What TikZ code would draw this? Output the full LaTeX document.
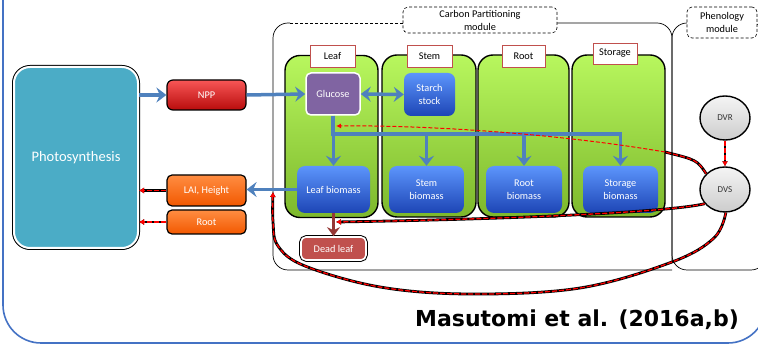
\documentclass[tikz,border=0pt]{standalone}
\usepackage{fontspec}
\setmainfont{Carlito}
\newfontfamily\refont{DejaVu Sans}
\usetikzlibrary{arrows.meta,shapes.geometric}
\definecolor{framec}{HTML}{4472C4}
\definecolor{teal}{HTML}{4BACC6}
\definecolor{arrblue}{HTML}{4F81BD}
\definecolor{nppT}{HTML}{F85656}
\definecolor{nppB}{HTML}{B80C0C}
\definecolor{orT}{HTML}{FF8D42}
\definecolor{orB}{HTML}{F25800}
\definecolor{grT}{HTML}{B8F75E}
\definecolor{grB}{HTML}{7DB82C}
\definecolor{blT}{HTML}{5C95FC}
\definecolor{blB}{HTML}{1D45B5}
\definecolor{purp}{HTML}{8064A2}
\definecolor{deadc}{HTML}{C0504D}
\definecolor{deadarr}{HTML}{953735}
\definecolor{labred}{HTML}{C0504D}
\begin{document}
\begin{tikzpicture}[x=1pt,y=-1pt,
  wtxt/.style={text=white, align=center, inner sep=0pt, font=\fontsize{10.3}{13}\selectfont},
  btxt/.style={text=black, align=center, inner sep=0pt, font=\fontsize{10.3}{13}\selectfont},
  colbox/.style={draw=black, line width=1.4pt, rounded corners=15pt, top color=grT, bottom color=grB, minimum height=162pt},
  labbox/.style={draw=labred, line width=0.8pt, fill=white, btxt, minimum height=22pt},
  biobox/.style={rounded corners=8pt, top color=blT, bottom color=blB, wtxt, minimum height=47pt},
  orbox/.style={draw=black, line width=1.2pt, rounded corners=5pt, top color=orT, bottom color=orB, wtxt, minimum width=79pt},
  modlab/.style={draw=black, densely dashed, line width=0.6pt, rounded corners=5pt, fill=white, btxt},
  circ/.style={ellipse, draw=black, line width=1.4pt, top color=gray!8, bottom color=gray!40, inner sep=0pt, minimum width=50pt, minimum height=44pt, font=\fontsize{9}{11}\selectfont, text=black!80},
  modline/.style={draw=black, line width=0.7pt},
  bluearr/.style={draw=arrblue, line width=3.5pt, -{Stealth[length=10pt,width=15pt,inset=3.5pt]}},
  rdd/.style={preaction={draw=black, line width=2.8pt}, draw=red, dash pattern=on 5pt off 2pt, line width=1.3pt, -{Latex[length=5pt,width=6pt]}},
  rdnoarr/.style={preaction={draw=black, line width=2.8pt}, draw=red, dash pattern=on 5pt off 2pt, line width=1.3pt},
  rthin/.style={draw=red, dash pattern=on 4pt off 2pt, line width=1pt, -{Latex[length=5pt,width=5pt]}}
]
\useasboundingbox (0,0) rectangle (758,344);
\begin{scope}
\clip (0,0) rectangle (758,344);
\draw[framec, line width=1.6pt, rounded corners=38pt] (3,-60) rectangle (766,343);
% modules
\draw[modline, densely dashed] (403,23) -- (290,23);
\draw[modline, rounded corners=15pt] (290,23) -- (273,23) -- (273,270) -- (672,270);
\draw[modline, rounded corners=15pt] (557,23) -- (672,23) -- (672,262);
\draw[modline, rounded corners=15pt] (690,23) -- (672,23) -- (672,270) -- (766,270) -- (766,23) -- (740,23);
\end{scope}
\node[modlab, minimum width=154pt, minimum height=26pt] (cplab) at (480,20) {Carbon Partitioning\\module};
\node[modlab, minimum width=70pt, minimum height=31pt] (phlab) at (722,22.5) {Phenology\\module};

% photosynthesis
\node[preaction={draw=black, line width=4pt, rounded corners=16pt}, fill=teal, draw=white, line width=2pt, rounded corners=16pt,
  minimum width=124pt, minimum height=181pt, wtxt, font=\fontsize{14.5}{16}\selectfont] (photo) at (76,157.5) {Photosynthesis};

\node[draw=black, line width=1.2pt, rounded corners=6pt, top color=nppT, bottom color=nppB, wtxt, minimum width=79pt, minimum height=30pt] (npp) at (206.5,95) {NPP};
\node[orbox, minimum height=31pt] (lai) at (206.5,190.5) {LAI, Height};
\node[orbox, minimum height=24pt] (rootc) at (206.5,222) {Root};

% columns
\node[colbox, minimum width=93pt] (leafcol) at (331.5,136.5) {};
\node[colbox, minimum width=94pt] (stemcol) at (429,136) {};
\node[colbox, minimum width=91pt] (rootcol) at (523.5,136) {};
\node[colbox, minimum width=93pt] (storcol) at (618.5,136) {};

\node[labbox, minimum width=45pt] (leaflab) at (332.5,56) {Leaf};
\node[labbox, minimum width=45pt] (stemlab) at (429.5,56) {Stem};
\node[labbox, minimum width=43pt] (rootlab) at (523.5,56) {Root};
\node[labbox, minimum width=44pt, minimum height=21pt] (storlab) at (615,53.5) {Storage};

\node[fill=purp, draw=white, line width=1.5pt, rounded corners=5pt, wtxt, minimum width=54pt, minimum height=42pt] (glu) at (333,94) {Glucose};
\node[rounded corners=7pt, top color=blT, bottom color=blB, wtxt, minimum width=51pt, minimum height=43pt] (starch) at (429.5,94.5) {Starch\\stock};

\node[biobox, minimum width=73pt] (leafbio) at (333.5,189.5) {Leaf biomass};
\node[biobox, minimum width=75pt] (stembio) at (426.5,189.5) {Stem\\biomass};
\node[biobox, minimum width=76pt] (rootbio) at (524,189.5) {Root\\biomass};
\node[biobox, minimum width=75pt] (storbio) at (620.5,189.5) {Storage\\biomass};

\node[preaction={draw=black, line width=3.6pt, rounded corners=5pt}, fill=deadc, draw=white, line width=1.6pt, rounded corners=5pt, wtxt, minimum width=65pt, minimum height=23pt] (dead) at (333.5,248.5) {Dead leaf};

\node[circ] (dvr) at (725,118) {DVR};
\node[circ, minimum height=45pt] (dvs) at (725,189.5) {DVS};

% blue connectors
\coordinate (bar) at (0,134);
\draw[bluearr] (photo.east |- npp.west) -- (npp.west);
\draw[bluearr] (npp.east) -- (glu.west);
\draw[bluearr, {Stealth[length=10pt,width=15pt,inset=3.5pt]}-{Stealth[length=10pt,width=15pt,inset=3.5pt]}] (glu.east) -- (starch.west);
\draw[bluearr, line join=miter] (glu.south) -- (glu.south |- bar) -- (storbio.north |- bar) -- (storbio.north);
\draw[bluearr] (leafbio.north |- bar) -- (leafbio.north);
\draw[bluearr] (stembio.north |- bar) -- (stembio.north);
\draw[bluearr] (rootbio.north |- bar) -- (rootbio.north);
\draw[bluearr] (leafbio.west) -- (leafbio.west -| lai.east);
\draw[draw=deadarr, line width=3.5pt, -{Stealth[length=9pt,width=13pt,inset=3pt]}] (leafbio.south) -- (dead.north);

% red connectors
\draw[rdd] (lai.west) -- (lai.west -| photo.east);
\draw[rdd] (rootc.west) -- (rootc.west -| photo.east);
\draw[rdd] (dvr.south) -- (dvs.north);
\coordinate (cA) at (665,152);
\coordinate (gtip) at (336,126);
\coordinate (dtip) at (336,222);
\coordinate (ltip) at (273,192);
\draw[rdnoarr] (dvs.140) .. controls (697,160) .. (cA);
\draw[rthin] (cA) .. controls (560,134) and (430,125) .. (gtip);
\draw[rdd] (dvs.215) .. controls (670,212) and (520,219) .. (dtip);
\draw[rdd] plot[smooth, tension=0.6] coordinates {(dvs.272) (714,238) (672,262) (580,288) (470,294) (380,287) (305,266) (278,246) (273,222) (ltip)};

\node[anchor=base west, inner sep=0pt, font=\refont\bfseries\fontsize{22}{24}\selectfont] (cite) at (415,327) {Masutomi et al. (2016a,b)};
\end{tikzpicture}
\end{document}
